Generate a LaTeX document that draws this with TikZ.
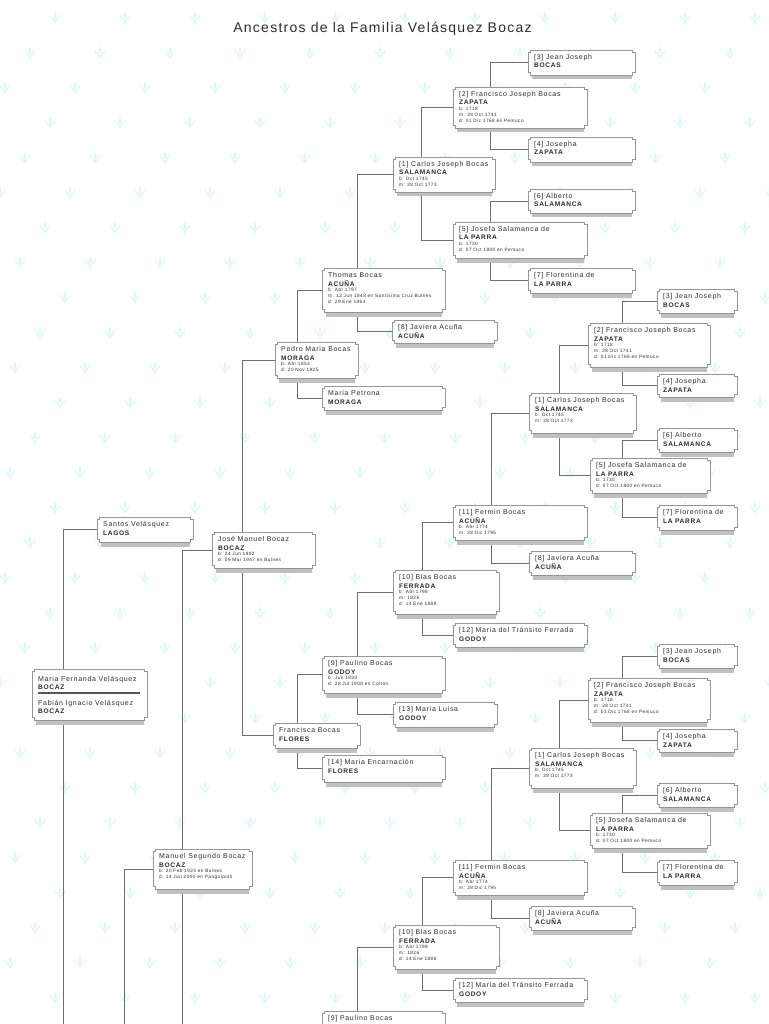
\documentclass[tikz,border=0pt]{standalone}
\usepackage{fontspec}
\setmainfont{Liberation Sans}
\newfontfamily\lsf[LetterSpace=10]{Liberation Sans}
\newfontfamily\ttlf[LetterSpace=9]{Liberation Sans}
\definecolor{fleurc}{RGB}{226,246,249}
\definecolor{boxc}{RGB}{150,150,150}
\definecolor{shadc}{RGB}{192,192,192}
\definecolor{connc}{RGB}{110,110,110}
\definecolor{txtc}{RGB}{45,45,45}
\definecolor{sepc}{RGB}{85,85,85}
\pgfdeclarelayer{bg}
\pgfsetlayers{bg,main}
\newcommand\namef{\lsf\fontsize{7}{8}\selectfont}
\newcommand\surf{\lsf\bfseries\fontsize{6.6}{8}\selectfont}
\newcommand\detf{\lsf\fontsize{4.7}{5}\selectfont}
\newcommand\Lname[1]{\hbox{\vrule height 5.5pt depth 1.5pt width 0pt\namef #1}}
\newcommand\Lsur[1]{\hbox{\vrule height 7pt depth 1.5pt width 0pt\surf #1}}
\newcommand\Ldet[1]{\hbox{\vrule height 4pt depth 2pt width 0pt\detf #1}}
\tikzset{
  pbx/.style={inner sep=0pt, outer sep=0pt, anchor=north west},
  boxpath/.style={fill=white, draw=boxc, line width=0.8pt},
  ptx/.style={anchor=base west, inner sep=0pt, text=txtc},
  conn/.style={draw=connc, line width=0.9pt},
}
\newcommand\gbox[5]{%
  \node[pbx, minimum width={((#4)-(#2))*1pt}, minimum height={((#5)-(#3))*1pt}] (#1) at (#2,#3) {};
  \fill[shadc] ([xshift=4pt,yshift=1pt]#1.south west) rectangle ([xshift=-3pt,yshift=-4.5pt]#1.south east);
  \path[boxpath] ([xshift=2.5pt]#1.north west) -- ([xshift=-2.5pt]#1.north east) -- ([shift={(-2.5pt,-2.5pt)}]#1.north east) -- ([yshift=-2.5pt]#1.north east) -- ([yshift=2.5pt]#1.south east) -- ([shift={(-2.5pt,2.5pt)}]#1.south east) -- ([xshift=-2.5pt]#1.south east) -- ([xshift=2.5pt]#1.south west) -- ([shift={(2.5pt,2.5pt)}]#1.south west) -- ([yshift=2.5pt]#1.south west) -- ([yshift=-2.5pt]#1.north west) -- ([shift={(2.5pt,-2.5pt)}]#1.north west) -- cycle;
}
\newcommand\gtxt[4]{\node[ptx] (#1t) at ([shift={(6pt,-9.5pt)}]#1.north west) {\vtop{\offinterlineskip\Lname{#2}\Lsur{#3}#4}};}
\newcommand\cnup[3]{\draw[conn] ([xshift=#2pt]#1.north west) |- (#3.west);}
\newcommand\cndn[3]{\draw[conn] ([xshift=#2pt]#1.south west) |- (#3.west);}
\newcommand\fleur[2]{%
  \begin{scope}[shift={(#1,#2)}, scale=0.95]
    \fill[fleurc] (0,-7) .. controls (2.3,-4) and (2,-0.5) .. (0,1.8) .. controls (-2,-0.5) and (-2.3,-4) .. (0,-7);
    \fill[fleurc] (1,2) .. controls (4,2) and (6.5,-1) .. (5,-4) .. controls (4.8,-1.5) and (3.2,0) .. (1,0.2) -- cycle;
    \fill[fleurc] (-1,2) .. controls (-4,2) and (-6.5,-1) .. (-5,-4) .. controls (-4.8,-1.5) and (-3.2,0) .. (-1,0.2) -- cycle;
    \fill[fleurc] (-3.5,2) rectangle (3.5,3.2);
    \fill[fleurc] (-1.5,3.2) -- (0,6.5) -- (1.5,3.2) -- cycle;
  \end{scope}}
% Carlos block (7 boxes)
\newcommand\carlos[2]{%
  \gbox{#1c3}{657}{289+#2}{737}{313+#2}
  \gbox{#1c2}{588}{323+#2}{710}{367+#2}
  \gbox{#1c4}{657}{374+#2}{737}{397+#2}
  \gbox{#1c1}{529}{393+#2}{636}{433+#2}
  \gbox{#1c6}{657}{428+#2}{737}{452+#2}
  \gbox{#1c5}{590}{458+#2}{710}{493+#2}
  \gbox{#1c7}{657}{505+#2}{737}{530+#2}}
\newcommand\carlostxt[1]{%
  \gtxt{#1c3}{[3] Jean Joseph}{BOCAS}{}
  \gtxt{#1c2}{[2] Francisco Joseph Bocas}{ZAPATA}{\Ldet{b: 1718}\Ldet{m: 28 Oct 1741}\Ldet{d: 01 Dic 1768 en Pemuco}}
  \gtxt{#1c4}{[4] Josepha}{ZAPATA}{}
  \gtxt{#1c1}{[1] Carlos Joseph Bocas}{SALAMANCA}{\Ldet{b: Oct 1745}\Ldet{m: 28 Oct 1773}}
  \gtxt{#1c6}{[6] Alberto}{SALAMANCA}{}
  \gtxt{#1c5}{[5] Josefa Salamanca de}{LA PARRA}{\Ldet{b: 1730}\Ldet{d: 07 Oct 1800 en Pemuco}}
  \gtxt{#1c7}{[7] Florentina de}{LA PARRA}{}}
\newcommand\carloscn[1]{%
  \cnup{#1c2}{34}{#1c3}\cndn{#1c2}{34}{#1c4}
  \cnup{#1c5}{32}{#1c6}\cndn{#1c5}{32}{#1c7}
  \cnup{#1c1}{30}{#1c2}\cndn{#1c1}{30}{#1c5}}
% Fermin block
\newcommand\fermin[2]{%
  \gbox{#1f11}{453}{505+#2}{587}{540+#2}
  \gbox{#1f8}{529}{551+#2}{635}{575+#2}
  \gbox{#1f10}{393}{570+#2}{499}{614+#2}
  \gbox{#1f12}{453}{623+#2}{587}{647+#2}
  \gbox{#1f9}{322}{656+#2}{445}{693+#2}}
\newcommand\fermintxt[1]{%
  \gtxt{#1f11}{[11] Fermin Bocas}{ACUÑA}{\Ldet{b: Abr 1774}\Ldet{m: 28 Dic 1795}}
  \gtxt{#1f8}{[8] Javiera Acuña}{ACUÑA}{}
  \gtxt{#1f10}{[10] Blas Bocas}{FERRADA}{\Ldet{b: Abr 1798}\Ldet{m: 1826}\Ldet{d: 14 Ene 1888}}
  \gtxt{#1f12}{[12] Maria del Tránsito Ferrada}{GODOY}{}}
\newcommand\fermincn[1]{%
  \cnup{#1f11}{38}{#1c1}\cndn{#1f11}{38}{#1f8}
  \cnup{#1f10}{29}{#1f11}\cndn{#1f10}{29}{#1f12}
  \cnup{#1f9}{35}{#1f10}}
\begin{document}
\begin{tikzpicture}[x=1pt,y=-1pt]
\useasboundingbox (0,0) rectangle (768,1024);
\clip (0,0) rectangle (768,1024);
\begin{pgfonlayer}{bg}
\fill[white] (0,0) rectangle (768,1024);
\foreach \r in {0,...,29}{\foreach \c in {-1,...,11}{%
  \pgfmathsetmacro\px{Mod(55-25*\r,70)+70*\c}
  \pgfmathsetmacro\py{18+35*\r}
  \fleur{\px}{\py}}}
\end{pgfonlayer}
\node[anchor=base, text=txtc, inner sep=0pt] (title) at (382.5,32.5) {\ttlf\fontsize{14}{16}\selectfont Ancestros de la Familia Velásquez Bocaz};
% top block
\gbox{T3}{528}{50}{635}{75}
\gbox{T2}{453}{87}{587}{128}
\gbox{T4}{528}{137}{635}{162}
\gbox{T1}{393}{157}{495}{192}
\gbox{T6}{528}{189}{635}{213}
\gbox{T5}{453}{222}{587}{258}
\gbox{T7}{528}{268}{635}{293}
\gbox{Thomas}{322}{268}{445}{312}
\gbox{T8}{392}{320}{497}{343}
\gbox{Pedro}{275}{342}{358}{378}
\gbox{Petrona}{322}{386}{445}{410}
\gbox{Santos}{97}{517}{193}{542}
\gbox{Jose}{212}{532}{315}{568}
\carlos{S}{0}
\fermin{S}{0}
\gbox{S13}{393}{702}{497}{727}
\gbox{Francisca}{273}{723}{360}{748}
\gbox{S14}{322}{755}{445}{782}
\gbox{MF}{32}{669}{147}{720}
\gbox{MS}{153}{849}{252}{889}
\carlos{U}{355}
\fermin{U}{355}
% texts
\gtxt{T3}{[3] Jean Joseph}{BOCAS}{}
\gtxt{T2}{[2] Francisco Joseph Bocas}{ZAPATA}{\Ldet{b: 1718}\Ldet{m: 28 Oct 1741}\Ldet{d: 01 Dic 1768 en Pemuco}}
\gtxt{T4}{[4] Josepha}{ZAPATA}{}
\gtxt{T1}{[1] Carlos Joseph Bocas}{SALAMANCA}{\Ldet{b: Oct 1745}\Ldet{m: 28 Oct 1773}}
\gtxt{T6}{[6] Alberto}{SALAMANCA}{}
\gtxt{T5}{[5] Josefa Salamanca de}{LA PARRA}{\Ldet{b: 1730}\Ldet{d: 07 Oct 1800 en Pemuco}}
\gtxt{T7}{[7] Florentina de}{LA PARRA}{}
\gtxt{Thomas}{Thomas Bocas}{ACUÑA}{\Ldet{b: Abr 1797}\Ldet{m: 12 Jun 1848 en Santísima Cruz Bulnes}\Ldet{d: 29 Ene 1863}}
\gtxt{T8}{[8] Javiera Acuña}{ACUÑA}{}
\gtxt{Pedro}{Pedro Maria Bocas}{MORAGA}{\Ldet{b: Abr 1853}\Ldet{d: 20 Nov 1925}}
\gtxt{Petrona}{Maria Petrona}{MORAGA}{}
\gtxt{Santos}{Santos Velásquez}{LAGOS}{}
\gtxt{Jose}{José Manuel Bocaz}{BOCAZ}{\Ldet{b: 24 Jun 1892}\Ldet{d: 09 Mar 1947 en Bulnes}}
\carlostxt{S}
\fermintxt{S}
\gtxt{Sf9}{[9] Paulino Bocas}{GODOY}{\Ldet{b: Jun 1830}\Ldet{d: 28 Jul 1908 en Coltón}}
\gtxt{S13}{[13] Maria Luisa}{GODOY}{}
\gtxt{Francisca}{Francisca Bocas}{FLORES}{}
\gtxt{S14}{[14] Maria Encarnación}{FLORES}{}
\gtxt{MS}{Manuel Segundo Bocaz}{BOCAZ}{\Ldet{b: 20 Feb 1924 en Bulnes}\Ldet{d: 14 Jun 2000 en Panguipulli}}
\carlostxt{U}
\fermintxt{U}
\node[ptx] (Uf9t) at ([shift={(6pt,-9pt)}]Uf9.north west) {\namef [9] Paulino Bocas};
\node[ptx] (MFt) at (38,681) {\vtop{\offinterlineskip\Lname{Maria Fernanda Velásquez}\Lsur{BOCAZ}}};
\node[ptx] (MFt2) at (38,705) {\vtop{\offinterlineskip\Lname{Fabián Ignacio Velásquez}\Lsur{BOCAZ}}};
\coordinate (sepL) at (38,693);
\coordinate (sepR) at (140,693);
\draw[sepc, line width=1.6pt] (sepL) -- (sepR);
% connectors
\coordinate (mfdown) at (63,1030);
\coordinate (msdown) at (182,1030);
\coordinate (mschild) at (124,1030);
\begin{pgfonlayer}{bg}
\cnup{T2}{37}{T3}\cndn{T2}{37}{T4}
\cnup{T5}{37}{T6}\cndn{T5}{37}{T7}
\cnup{T1}{28}{T2}\cndn{T1}{28}{T5}
\cnup{Thomas}{35}{T1}\cndn{Thomas}{35}{T8}
\cnup{Pedro}{22}{Thomas}\cndn{Pedro}{22}{Petrona}
\cnup{Jose}{30}{Pedro}\cndn{Jose}{30}{Francisca}
\cnup{Francisca}{24}{Sf9}\cndn{Francisca}{24}{S14}
\cndn{Sf9}{35}{S13}
\carloscn{S}
\fermincn{S}
\carloscn{U}
\fermincn{U}
\cnup{MF}{31}{Santos}
\draw[conn] ([xshift=31pt]MF.south west) -- (mfdown);
\cnup{MS}{29}{Jose}
\draw[conn] ([xshift=29pt]MS.south west) -- (msdown);
\draw[conn] (mschild) |- (MS.west);
\end{pgfonlayer}
\end{tikzpicture}
\end{document}
